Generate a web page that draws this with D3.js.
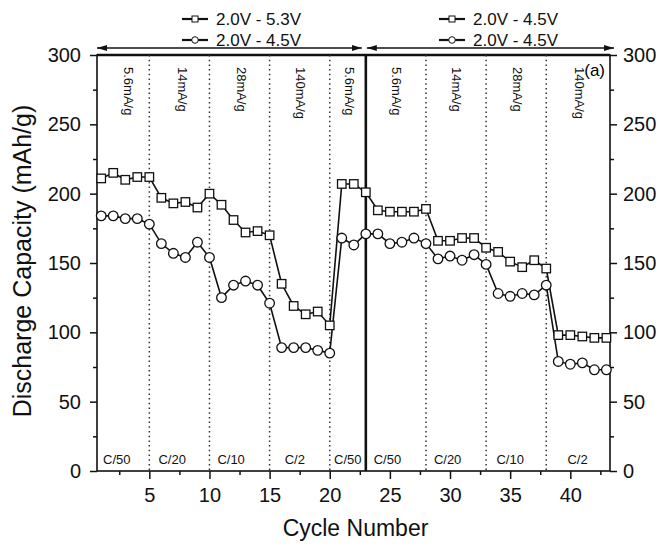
<!DOCTYPE html>
<html>
<head>
<meta charset="utf-8">
<script src="https://cdn.jsdelivr.net/npm/d3@7"></script>
<style>
  body { margin: 0; background: #fff; }
  svg { font-family: 'Liberation Sans', Arial, sans-serif; }
</style>
</head>
<body>
<div id="chart"></div>
<script>
// cycle numbers (x) and the two capacity series, mAh/g
const cycles = [1, 2, 3, 4, 5, 6, 7, 8, 9, 10, 11, 12, 13, 14, 15, 16, 17, 18, 19, 20, 21, 22,
  23, 24, 25, 26, 27, 28, 29, 30, 31, 32, 33, 34, 35, 36, 37, 38, 39, 40, 41, 42, 43];
const squareSeries = [211, 215, 210, 212, 212, 197, 193, 194, 190, 200, 192, 181, 172, 173, 170,
  135, 119, 113, 115, 105, 207, 207, 201, 188, 187, 187, 187, 189, 166, 166, 168, 168, 161, 158,
  151, 147, 152, 146, 98, 98, 97, 96, 96];
const circleSeries = [184, 184, 182, 182, 178, 164, 157, 154, 165, 154, 125, 134, 137, 134, 121,
  89, 89, 89, 87, 85, 168, 163, 171, 171, 164, 165, 168, 164, 153, 155, 152, 156, 149, 128,
  126, 128, 127, 134, 79, 77, 78, 73, 73];

// regime boundaries
const rateBoundaries = [5, 10, 15, 20, 28, 33, 38];
const switchCycle = 23;

// annotations (centre cycle + text)
const currentLabels = ['5.6mA/g', '14mA/g', '28mA/g', '140mA/g', '5.6mA/g', '5.6mA/g', '14mA/g', '28mA/g', '140mA/g'];
const currentCenters = [3.2, 7.7, 12.6, 17.5, 21.6, 25.5, 30.5, 35.6, 40.7];
const cRateLabels = ['C/50', 'C/20', 'C/10', 'C/2', 'C/50', 'C/50', 'C/20', 'C/10', 'C/2'];
const cRateCenters = [2.3, 6.9, 11.8, 17.1, 21.5, 24.8, 29.8, 35.0, 40.6];

const legendLeft = ['2.0V - 5.3V', '2.0V - 4.5V'];
const legendRight = ['2.0V - 4.5V', '2.0V - 4.5V'];

const yTicks = [0, 50, 100, 150, 200, 250, 300];
const xTicks = [5, 10, 15, 20, 25, 30, 35, 40];

const config = {
  width: 660, height: 546,
  margin: {top: 55, right: 50, bottom: 75, left: 97}
};

const svg = d3.select('#chart').append('svg')
    .attr('width', config.width)
    .attr('height', config.height);

const innerW = config.width - config.margin.left - config.margin.right;
const innerH = config.height - config.margin.top - config.margin.bottom;

const chart = svg.append('g')
    .attr('transform', `translate(${config.margin.left},${config.margin.top})`);

const xScale = d3.scaleLinear().domain([0.65, 43.3]).range([0, innerW]);
const yScale = d3.scaleLinear().domain([0, 300]).range([innerH, 0]);

// axes, major + minor ticks
const tickFont = '20px';
const yMinor = d3.range(25, 300, 50);
const xMinor = d3.range(2.5, 43, 5);

chart.append('g').call(d3.axisLeft(yScale).tickValues(yTicks).tickSize(7).tickPadding(9));
chart.append('g').attr('transform', `translate(${innerW},0)`)
    .call(d3.axisRight(yScale).tickValues(yTicks).tickSize(7).tickPadding(6));
chart.append('g').attr('transform', `translate(0,${innerH})`)
    .call(d3.axisBottom(xScale).tickValues(xTicks).tickSize(8).tickPadding(9));

chart.append('g').call(d3.axisLeft(yScale).tickValues(yMinor).tickSize(4).tickFormat(''));
chart.append('g').attr('transform', `translate(${innerW},0)`)
    .call(d3.axisRight(yScale).tickValues(yMinor).tickSize(4).tickFormat(''));
chart.append('g').attr('transform', `translate(0,${innerH})`)
    .call(d3.axisBottom(xScale).tickValues(xMinor).tickSize(4).tickFormat(''));

chart.selectAll('.domain').remove();
chart.selectAll('.tick line').attr('stroke', '#111').attr('stroke-width', 1.5);
chart.selectAll('.tick text').style('font-size', tickFont).attr('fill', '#111')
    .style('font-family', "'Liberation Sans', Arial, sans-serif");

// frame
chart.append('rect')
    .attr('width', innerW).attr('height', innerH)
    .attr('fill', 'none').attr('stroke', '#111').attr('stroke-width', 1.6);
chart.append('line')
    .attr('x1', 0).attr('x2', innerW).attr('y1', 0).attr('y2', 0)
    .attr('stroke', '#111').attr('stroke-width', 2.4);

// dotted regime separators
chart.selectAll('.sep')
    .data(rateBoundaries)
    .join('line')
    .attr('class', 'sep')
    .attr('x1', d => xScale(d)).attr('x2', d => xScale(d))
    .attr('y1', 0).attr('y2', innerH)
    .attr('stroke', '#333').attr('stroke-width', 1.5)
    .attr('stroke-dasharray', '1.5,3.2');

// thick line where the voltage window changes
chart.append('line')
    .attr('x1', xScale(switchCycle)).attr('x2', xScale(switchCycle))
    .attr('y1', 0).attr('y2', innerH)
    .attr('stroke', '#111').attr('stroke-width', 2.6);

// double arrows above the frame
const defs = svg.append('defs');
defs.append('marker').attr('id', 'head')
    .attr('viewBox', '0 0 10 6').attr('refX', 10).attr('refY', 3)
    .attr('markerWidth', 10).attr('markerHeight', 6).attr('markerUnits', 'userSpaceOnUse')
    .attr('orient', 'auto-start-reverse')
    .append('path').attr('d', 'M0,0 L10,3 L0,6 Z').attr('fill', '#111');

const arrowY = -7;
[[xScale(0.65), xScale(switchCycle) - 4], [xScale(switchCycle) + 1, innerW + 4]].forEach(([a, b]) => {
  chart.append('line')
      .attr('x1', a).attr('x2', b).attr('y1', arrowY).attr('y2', arrowY)
      .attr('stroke', '#111').attr('stroke-width', 1.4)
      .attr('marker-start', 'url(#head)').attr('marker-end', 'url(#head)');
});

// data lines + markers
const rows = cycles.map((c, i) => ({c, sq: squareSeries[i], ci: circleSeries[i]}));
const line = key => d3.line().x(d => xScale(d.c)).y(d => yScale(d[key]));

chart.append('path').datum(rows).attr('d', line('sq'))
    .attr('fill', 'none').attr('stroke', '#111').attr('stroke-width', 1.6);
chart.append('path').datum(rows).attr('d', line('ci'))
    .attr('fill', 'none').attr('stroke', '#111').attr('stroke-width', 1.6);

const sqSize = 8.5;
chart.selectAll('.sq')
    .data(rows)
    .join('rect')
    .attr('class', 'sq')
    .attr('x', d => xScale(d.c) - sqSize / 2)
    .attr('y', d => yScale(d.sq) - sqSize / 2)
    .attr('width', sqSize).attr('height', sqSize)
    .attr('fill', '#fff').attr('stroke', '#111').attr('stroke-width', 1.3);

chart.selectAll('.ci')
    .data(rows)
    .join('circle')
    .attr('class', 'ci')
    .attr('cx', d => xScale(d.c))
    .attr('cy', d => yScale(d.ci))
    .attr('r', 4.8)
    .attr('fill', '#fff').attr('stroke', '#111').attr('stroke-width', 1.3);

// current density labels (vertical)
chart.selectAll('.cur')
    .data(currentLabels)
    .join('text')
    .attr('class', 'cur')
    .attr('transform', (d, i) => `translate(${xScale(currentCenters[i]) - 4},${12}) rotate(90)`)
    .style('font-size', '13px')
    .attr('fill', '#111')
    .text(d => d);

// C-rate labels
chart.selectAll('.crate')
    .data(cRateLabels)
    .join('text')
    .attr('class', 'crate')
    .attr('x', (d, i) => xScale(cRateCenters[i]))
    .attr('y', innerH - 7)
    .attr('text-anchor', 'middle')
    .style('font-size', '13px')
    .attr('fill', '#111')
    .text(d => d);

chart.append('text')
    .attr('x', innerW - 5).attr('y', 21)
    .attr('text-anchor', 'end')
    .style('font-size', '17px')
    .text('(a)');

// axis titles
svg.append('text')
    .attr('transform', `translate(31,${config.margin.top + innerH / 2 - 2}) rotate(-90)`)
    .attr('text-anchor', 'middle')
    .style('font-size', '25px')
    .attr('fill', '#111')
    .text('Discharge Capacity (mAh/g)');

svg.append('text')
    .attr('x', config.margin.left + innerW / 2 + 2)
    .attr('y', 536)
    .attr('text-anchor', 'middle')
    .style('font-size', '23px')
    .attr('fill', '#111')
    .text('Cycle Number');

// legends
function drawLegend(x, labels) {
  const g = svg.append('g').attr('transform', `translate(${x},0)`);
  labels.forEach((lab, i) => {
    const y = 19 + i * 21;
    g.append('line').attr('x1', 0).attr('x2', 26).attr('y1', y).attr('y2', y)
        .attr('stroke', '#111').attr('stroke-width', 2.2);
    if (i === 0) {
      g.append('rect').attr('x', 10).attr('y', y - 3).attr('width', 6).attr('height', 6)
          .attr('fill', '#fff').attr('stroke', '#111').attr('stroke-width', 1);
    } else {
      g.append('circle').attr('cx', 13).attr('cy', y).attr('r', 3.3)
          .attr('fill', '#fff').attr('stroke', '#111').attr('stroke-width', 1);
    }
    g.append('text').attr('x', 34).attr('y', y + 6)
        .style('font-size', '17px').attr('fill', '#111')
        .text(lab);
  });
}
drawLegend(182, legendLeft);
drawLegend(439, legendRight);
</script>
</body>
</html>
